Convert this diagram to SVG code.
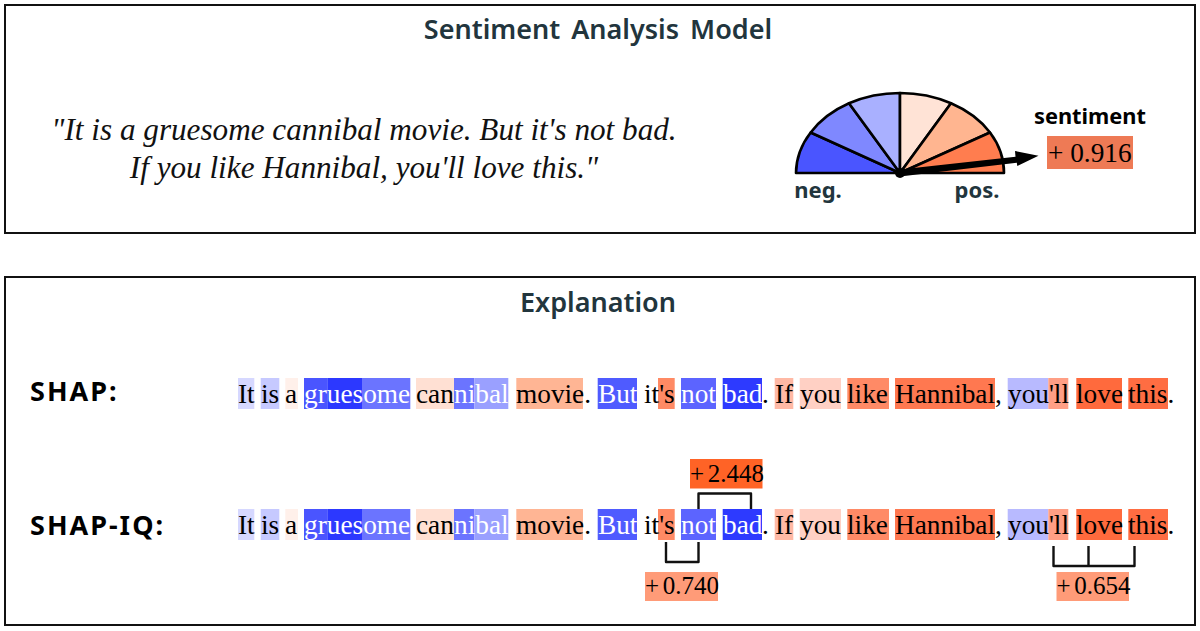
<svg xmlns="http://www.w3.org/2000/svg" width="1200" height="631" viewBox="0 0 1200 631">
<style>
.box{fill:#fff;stroke:#111;stroke-width:2}
.h{font-family:"Noto Sans","Open Sans",sans-serif;font-weight:600;fill:#22353d;text-anchor:middle}
.l{font-family:"Noto Sans","Open Sans",sans-serif;font-weight:700;font-size:27px;letter-spacing:2px;fill:#000}
.t{font-family:"Liberation Serif","Times New Roman",serif;font-size:27.3px;fill:#000}
.n{font-family:"Liberation Serif","Times New Roman",serif;font-size:25px;word-spacing:-2.5px;fill:#000}
.w{fill:#fff}
.q{font-family:"Liberation Serif","Times New Roman",serif;font-style:italic;font-size:31.2px;fill:#111;text-anchor:middle}
.c{fill:none;stroke:#111;stroke-width:2.4;stroke-linejoin:round}
.s{stroke:#000;stroke-width:2.6;stroke-linejoin:round}
</style>
<rect width="1200" height="631" fill="#fff"/>
<g id="model">
<rect class="box" x="5" y="5" width="1190" height="228"/>
<text class="h" x="598" y="39" font-size="27" word-spacing="4">Sentiment Analysis Model</text>
<text class="q" x="364" y="139.5">"It is a gruesome cannibal movie. But it's not bad.</text>
<text class="q" x="364" y="178">If you like Hannibal, you'll love this."</text>
</g>
<g id="gauge">
<path class="s" fill="#4a55ff" d="M900 173H796A104 80 0 0 1 810.7 132.5Z"/>
<path class="s" fill="#7f88ff" d="M900 173L810.7 132.5A104 80 0 0 1 849 103.3Z"/>
<path class="s" fill="#a9b0ff" d="M900 173L849 103.3A104 80 0 0 1 900 93Z"/>
<path class="s" fill="#ffe3d6" d="M900 173V93A104 80 0 0 1 951 103.3Z"/>
<path class="s" fill="#ffb590" d="M900 173L951 103.3A104 80 0 0 1 990 132.5Z"/>
<path class="s" fill="#ff7d4f" d="M900 173L990 132.5A104 80 0 0 1 1004 173Z"/>
<circle cx="900" cy="173" r="5" fill="#000"/>
<path fill="#000" d="M900 169.5L1015.5 156.8L1015 151L1038.5 155.7L1017.3 166L1016.8 162.8L900 176.5Z"/>
<text class="h" x="818" y="198" font-size="22" style="font-weight:700">neg.</text>
<text class="h" x="977" y="198" font-size="22" style="font-weight:700">pos.</text>
<text class="h" x="1090" y="123.5" font-size="21.8" style="font-weight:700;fill:#000">sentiment</text>
<rect x="1047" y="136" width="86" height="33" fill="#ee7a55"/>
<text class="t" x="1048" y="161.5">+ 0.916</text>
</g>
<g id="explanation">
<rect class="box" x="5" y="277" width="1190" height="348"/>
<text class="h" x="598" y="312" font-size="27">Explanation</text>
</g>
<g id="shap">
<text class="l" x="30" y="401">SHAP:</text>
<g>
<rect x="238" y="378" width="16.3" height="31" fill="#d6d8ff"/>
<rect x="260.7" y="378" width="18.6" height="31" fill="#c6c9ff"/>
<rect x="285.3" y="378" width="12.7" height="31" fill="#fff0ea"/>
<rect x="304" y="378" width="23.3" height="31" fill="#4a55ff"/>
<rect x="327.3" y="378" width="34.7" height="31" fill="#2c38ff"/>
<rect x="362" y="378" width="48.3" height="31" fill="#6b74ff"/>
<rect x="416" y="378" width="38" height="31" fill="#ffe0d3"/>
<rect x="454" y="378" width="20.3" height="31" fill="#6b74ff"/>
<rect x="474.3" y="378" width="34" height="31" fill="#9aa0ff"/>
<rect x="516.3" y="378" width="66.7" height="31" fill="#ffb594"/>
<rect x="597.7" y="378" width="39.3" height="31" fill="#4f5bff"/>
<rect x="658" y="378" width="16.7" height="31" fill="#ff8a64"/>
<rect x="681" y="378" width="35" height="31" fill="#5c64ff"/>
<rect x="722.7" y="378" width="39.3" height="31" fill="#2d3aff"/>
<rect x="774.7" y="378" width="18.6" height="31" fill="#ffb9a5"/>
<rect x="799.7" y="378" width="41.3" height="31" fill="#ffd0c4"/>
<rect x="847.3" y="378" width="41.7" height="31" fill="#ff8a66"/>
<rect x="895" y="378" width="100" height="31" fill="#ff7850"/>
<rect x="1007.7" y="378" width="40.6" height="31" fill="#b8baff"/>
<rect x="1048.3" y="378" width="20" height="31" fill="#ff9f85"/>
<rect x="1076.3" y="378" width="45.7" height="31" fill="#ff6a3d"/>
<rect x="1128.3" y="378" width="39.7" height="31" fill="#ff6d42"/>
</g>
<text class="t" y="403"><tspan x="238">It</tspan><tspan x="261">is</tspan><tspan x="285">a</tspan><tspan x="304" class="w">gruesome</tspan><tspan x="416">can</tspan><tspan x="454" class="w">nibal</tspan><tspan x="516">movie.</tspan><tspan x="598" class="w">But</tspan><tspan x="644">it's</tspan><tspan x="681" class="w">not</tspan><tspan x="723" class="w">bad</tspan><tspan x="762">.</tspan><tspan x="775">If</tspan><tspan x="800">you</tspan><tspan x="847">like</tspan><tspan x="895">Hannibal,</tspan><tspan x="1008">you'll</tspan><tspan x="1076">love</tspan><tspan x="1128">this.</tspan></text>
</g>
<g id="shapiq">
<text class="l" x="30" y="535">SHAP-IQ:</text>
<g>
<rect x="238" y="509" width="16.3" height="31" fill="#d6d8ff"/>
<rect x="260.7" y="509" width="18.6" height="31" fill="#c6c9ff"/>
<rect x="285.3" y="509" width="12.7" height="31" fill="#fff0ea"/>
<rect x="304" y="509" width="23.3" height="31" fill="#4a55ff"/>
<rect x="327.3" y="509" width="34.7" height="31" fill="#2c38ff"/>
<rect x="362" y="509" width="48.3" height="31" fill="#6b74ff"/>
<rect x="416" y="509" width="38" height="31" fill="#ffe0d3"/>
<rect x="454" y="509" width="20.3" height="31" fill="#6b74ff"/>
<rect x="474.3" y="509" width="34" height="31" fill="#9aa0ff"/>
<rect x="516.3" y="509" width="66.7" height="31" fill="#ffb594"/>
<rect x="597.7" y="509" width="39.3" height="31" fill="#4f5bff"/>
<rect x="658" y="509" width="16.7" height="31" fill="#ff8a64"/>
<rect x="681" y="509" width="35" height="31" fill="#5c64ff"/>
<rect x="722.7" y="509" width="39.3" height="31" fill="#2d3aff"/>
<rect x="774.7" y="509" width="18.6" height="31" fill="#ffb9a5"/>
<rect x="799.7" y="509" width="41.3" height="31" fill="#ffd0c4"/>
<rect x="847.3" y="509" width="41.7" height="31" fill="#ff8a66"/>
<rect x="895" y="509" width="100" height="31" fill="#ff7850"/>
<rect x="1007.7" y="509" width="40.6" height="31" fill="#b8baff"/>
<rect x="1048.3" y="509" width="20" height="31" fill="#ff9f85"/>
<rect x="1076.3" y="509" width="45.7" height="31" fill="#ff6a3d"/>
<rect x="1128.3" y="509" width="39.7" height="31" fill="#ff6d42"/>
</g>
<text class="t" y="534"><tspan x="238">It</tspan><tspan x="261">is</tspan><tspan x="285">a</tspan><tspan x="304" class="w">gruesome</tspan><tspan x="416">can</tspan><tspan x="454" class="w">nibal</tspan><tspan x="516">movie.</tspan><tspan x="598" class="w">But</tspan><tspan x="644">it's</tspan><tspan x="681" class="w">not</tspan><tspan x="723" class="w">bad</tspan><tspan x="762">.</tspan><tspan x="775">If</tspan><tspan x="800">you</tspan><tspan x="847">like</tspan><tspan x="895">Hannibal,</tspan><tspan x="1008">you'll</tspan><tspan x="1076">love</tspan><tspan x="1128">this.</tspan></text>
</g>
<g id="connectors">
<path class="c" d="M698.5 509V493.5H751V509"/>
<path class="c" d="M666 542V562H698.5V542"/>
<path class="c" d="M1053.5 546V566H1134.5V546M1088.5 546V566"/>
</g>
<g id="pair-not-bad">
<rect x="690" y="459" width="72.5" height="29.5" fill="#ff6326"/>
<text class="n" x="690" y="482">+ 2.448</text>
</g>
<g id="pair-s-not">
<rect x="645" y="572" width="73" height="29" fill="#ff9b78"/>
<text class="n" x="645" y="594">+ 0.740</text>
</g>
<g id="triple-love-this">
<rect x="1056.5" y="572" width="72.5" height="29" fill="#ff9b78"/>
<text class="n" x="1056.5" y="594">+ 0.654</text>
</g>
</svg>
